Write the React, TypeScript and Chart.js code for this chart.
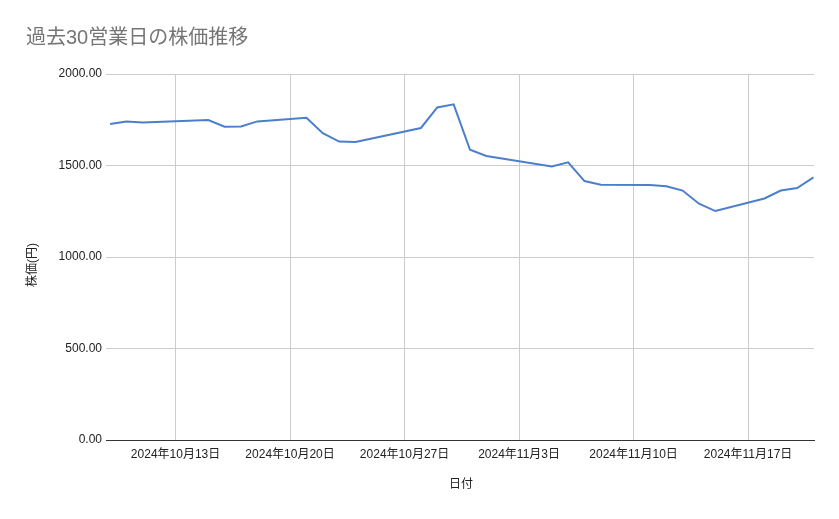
import React, { useEffect, useRef } from "react";
import { Chart, registerables } from "chart.js";

Chart.register(...registerables);

const titleText = "過去30営業日の株価推移";
const xAxisTitle = "日付";
const yAxisTitle = "株価(円)";

const dates = [
  "2024-10-09", "2024-10-10", "2024-10-11", "2024-10-15", "2024-10-16",
  "2024-10-17", "2024-10-18", "2024-10-21", "2024-10-22", "2024-10-23",
  "2024-10-24", "2024-10-25", "2024-10-28", "2024-10-29", "2024-10-30",
  "2024-10-31", "2024-11-01", "2024-11-05", "2024-11-06", "2024-11-07",
  "2024-11-08", "2024-11-11", "2024-11-12", "2024-11-13", "2024-11-14",
  "2024-11-15", "2024-11-18", "2024-11-19", "2024-11-20", "2024-11-21",
];

const prices = [
  1727, 1741, 1735, 1748, 1712,
  1713, 1741, 1761, 1677, 1631,
  1628, 1648, 1705, 1817, 1834,
  1586, 1552, 1495, 1517, 1415,
  1395, 1393, 1386, 1363, 1291,
  1251, 1320, 1363, 1377, 1435,
];

const xTickDates = [
  "2024-10-13", "2024-10-20", "2024-10-27", "2024-11-03", "2024-11-10", "2024-11-17",
];

const yTicks = [0, 500, 1000, 1500, 2000];

const xRangeStart = "2024-10-09";
const xRangeEnd = "2024-11-21";

const DAY = 86400000;
const toUTC = (s: string) => {
  const [y, m, d] = s.split("-").map(Number);
  return Date.UTC(y, m - 1, d);
};
const base = toUTC(xRangeStart);
const toDay = (s: string) => (toUTC(s) - base) / DAY;
const fmtDay = (v: number) => {
  const dt = new Date(base + Math.round(v) * DAY);
  return `${dt.getUTCFullYear()}年${dt.getUTCMonth() + 1}月${dt.getUTCDate()}日`;
};

const FONT = '"Liberation Sans", "Noto Sans CJK JP", sans-serif';

// Draws the rotated y-axis title slightly below the plot's vertical centre, as in the reference
const yTitlePlugin = {
  id: "yTitlePlugin",
  afterDraw(chart: any) {
    const { ctx, chartArea } = chart;
    ctx.save();
    ctx.translate(chart.options.layout.padding.left + 7, (chartArea.top + chartArea.bottom) / 2 + 8);
    ctx.rotate(-Math.PI / 2);
    ctx.fillStyle = "#222222";
    ctx.font = `12px ${FONT}`;
    ctx.textAlign = "center";
    ctx.textBaseline = "middle";
    ctx.fillText(yAxisTitle, 0, 0);
    ctx.restore();
  },
};

export default function App() {
  const ref = useRef<HTMLCanvasElement | null>(null);

  useEffect(() => {
    document.body.style.margin = "0";
    if (!ref.current) return;
    const chart = new Chart(ref.current, {
      type: "line",
      data: {
        datasets: [
          {
            label: yAxisTitle,
            data: dates.map((d, i) => ({ x: toDay(d), y: prices[i] })),
            borderColor: "#4c7fcb",
            backgroundColor: "#4c7fcb",
            borderWidth: 2,
            pointRadius: 0,
            tension: 0,
          },
        ],
      },
      options: {
        responsive: false,
        animation: false,
        devicePixelRatio: 1,
        layout: { padding: { left: 26, right: 25, top: 0, bottom: 0 } },
        plugins: {
          legend: { display: false },
          tooltip: { enabled: false },
          title: {
            display: true,
            text: titleText,
            align: "start",
            color: "#757575",
            font: { family: FONT, size: 20, weight: "normal" },
            padding: { top: 26, bottom: 24 },
          },
        },
        scales: {
          x: {
            type: "linear",
            min: toDay(xTickDates[0]) - 4.13,
            max: toDay(xRangeEnd) + 0.03,
            afterBuildTicks: (scale: any) => {
              scale.ticks = xTickDates.map((d) => ({ value: toDay(d) }));
            },
            afterFit: (scale: any) => {
              scale.height = 79;
            },
            grid: { color: "#cccccc", drawTicks: false, lineWidth: 1 },
            border: { display: true, color: "#333333" },
            ticks: {
              autoSkip: false,
              maxRotation: 0,
              padding: 7,
              color: "#222222",
              font: { family: FONT, size: 12 },
              callback: (v: any) => fmtDay(Number(v)),
            },
            title: {
              display: true,
              text: xAxisTitle,
              color: "#222222",
              font: { family: FONT, size: 12 },
              padding: { top: 0, bottom: 27 },
            },
          },
          y: {
            min: yTicks[0],
            max: yTicks[yTicks.length - 1],
            afterBuildTicks: (scale: any) => {
              scale.ticks = yTicks.map((v) => ({ value: v }));
            },
            afterFit: (scale: any) => {
              scale.width = 82;
            },
            grid: {
              color: (ctx: any) => (ctx.tick && ctx.tick.value === 0 ? "#333333" : "#cccccc"),
              tickLength: 2,
              lineWidth: 1,
            },
            border: { display: false },
            ticks: {
              padding: 4,
              color: "#222222",
              font: { family: FONT, size: 12 },
              callback: (v: any) => Number(v).toFixed(2),
            },
            title: { display: false },
          },
        },
      },
      plugins: [yTitlePlugin],
    } as any);
    return () => chart.destroy();
  }, []);

  return (
    <div style={{ width: 839, height: 519 }}>
      <canvas ref={ref} width={839} height={519} />
    </div>
  );
}
